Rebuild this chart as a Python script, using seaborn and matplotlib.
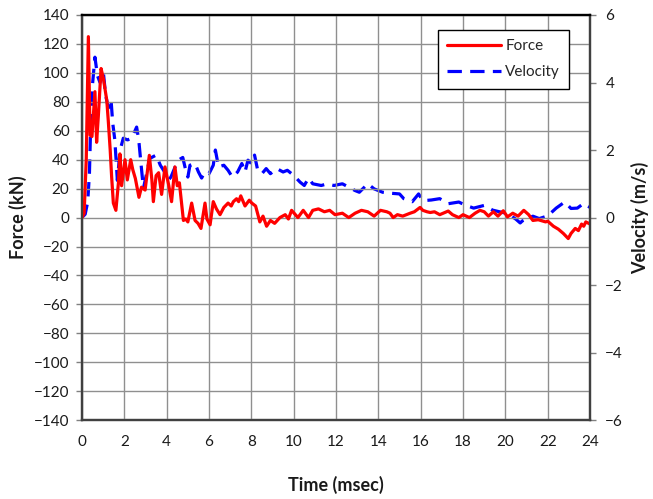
import numpy as np
import pandas as pd
import matplotlib
matplotlib.use("Agg")
import matplotlib.pyplot as plt
import seaborn as sns
from matplotlib.lines import Line2D

# ---- data ----
force_t = [0, 0.1, 0.2, 0.30, 0.38, 0.47, 0.61, 0.69, 0.77, 0.90, 1.01, 1.17, 1.24, 1.33,
           1.40, 1.48, 1.60, 1.72, 1.79, 1.87, 2.03, 2.14, 2.30, 2.40, 2.52, 2.69, 2.81,
           2.98, 3.18, 3.30, 3.37, 3.50, 3.62, 3.76, 3.92, 4.10, 4.23, 4.39, 4.50, 4.60,
           4.79, 4.90, 5.00, 5.18, 5.34, 5.48, 5.62, 5.81, 5.90, 6.05, 6.20, 6.35, 6.52,
           6.70, 6.90, 7.05, 7.15, 7.30, 7.40, 7.50, 7.70, 7.90, 8.02, 8.20, 8.40, 8.55,
           8.72, 8.90, 9.10, 9.35, 9.60, 9.75, 9.90, 10.20, 10.45, 10.70, 10.90, 11.17,
           11.45, 11.70, 11.95, 12.30, 12.60, 12.90, 13.20, 13.50, 13.80, 14.10, 14.40,
           14.55, 14.70, 14.90, 15.15, 15.50, 15.70, 15.97, 16.10, 16.30, 16.45, 16.65,
           16.90, 17.30, 17.50, 17.80, 18.00, 18.30, 18.57, 18.80, 19.00, 19.20, 19.43,
           19.65, 19.90, 20.10, 20.35, 20.60, 20.87, 21.10, 21.30, 21.55, 21.90, 22.00,
           22.27, 22.50, 22.74, 22.97, 23.10, 23.30, 23.45, 23.60, 23.70, 23.80, 24.00]
force_kn = [0, 3, 40, 125, 57, 56, 87, 52, 70, 103, 96, 81, 67, 47,
            28, 10, 5, 24, 44, 22, 40, 26, 40, 33, 27, 14, 21,
            19, 43, 26, 11, 29, 31, 16, 35, 22, 11, 35, 22, 24,
            -2, -1, -3, 10, -2, -4, -7.5, 10, -1, -5, 11, 6, 2,
            7, 10, 8, 11, 13, 11, 15, 8, 12, 10, 8, -3, 1,
            -6, -2, -4, 0, 2, -1, 5, 0, 5, 0, 5, 6,
            4, 5, 2, 3, 0, 3, 5, 4, 1, 5, 4,
            3, 0, 2, 1, 3, 4, 7, 5, 4, 3.5, 4,
            2, 4.5, 2, 0, 2, 0, 3, 5, 4, 1, 4,
            1, 4.7, 0.5, 3, 1, 5, 2, -2, -1.5, -3, -2.5,
            -6, -8, -11, -14.5, -11, -7.5, -9, -4.5, -6, -3, -4.5]

vel_t = [0, 0.15, 0.27, 0.35, 0.40, 0.49, 0.61, 0.73, 0.85, 1.00, 1.12, 1.25, 1.37, 1.45,
         1.55, 1.62, 1.67, 1.80, 1.95, 2.15, 2.35, 2.58, 2.68, 2.77, 2.90, 3.05, 3.20,
         3.50, 3.70, 3.90, 4.07, 4.20, 4.40, 4.60, 4.76, 4.90, 5.00, 5.10, 5.34, 5.50,
         5.65, 5.80, 6.00, 6.20, 6.30, 6.45, 6.70, 6.90, 7.10, 7.35, 7.55, 7.70, 7.84,
         8.00, 8.15, 8.30, 8.50, 8.70, 8.90, 9.20, 9.50, 9.70, 10.00, 10.30, 10.50,
         10.70, 10.90, 11.30, 11.60, 11.90, 12.30, 12.60, 12.90, 13.10, 13.50, 13.80,
         14.20, 14.60, 15.00, 15.20, 15.60, 15.90, 16.10, 16.50, 16.90, 17.30, 17.80,
         18.10, 18.50, 19.00, 19.40, 19.80, 20.10, 20.50, 20.70, 20.80, 21.30, 21.60,
         22.00, 22.40, 22.80, 23.10, 23.40, 23.70, 24.00]
vel_ms = [0, 0.1, 0.47, 1.3, 2.5, 3.9, 4.75, 4.2, 4.0, 4.35, 3.6, 3.25, 3.5, 2.8,
          2.3, 1.6, 1.1, 2.0, 2.35, 2.3, 2.35, 2.68, 2.3, 1.7, 0.86, 1.3, 1.75,
          1.85, 1.55, 1.35, 1.1, 1.2, 1.5, 1.72, 1.78, 1.4, 1.2, 1.55, 1.6, 1.35,
          1.17, 1.35, 1.3, 1.55, 2.0, 1.5, 1.55, 1.4, 1.2, 1.35, 1.6, 1.35, 1.7,
          1.6, 1.85, 1.4, 1.3, 1.45, 1.3, 1.45, 1.35, 1.4, 1.25, 1.05, 0.95,
          1.17, 1.0, 0.95, 1.0, 0.95, 1.0, 0.9, 0.8, 0.75, 1.0, 0.85,
          0.75, 0.72, 0.7, 0.56, 0.47, 0.7, 0.5, 0.52, 0.56, 0.41, 0.46,
          0.37, 0.28, 0.36, 0.22, 0.16, 0.12, -0.05, -0.16, -0.1, 0.04, -0.03,
          0.05, 0.28, 0.46, 0.27, 0.28, 0.42, 0.3]

x_ticks = list(range(0, 25, 2))
force_ticks = list(range(-140, 141, 20))
vel_ticks = list(range(-6, 7, 2))

# ---- style ----
sns.set_style("white")
plt.rcParams['font.family'] = ['Lato', 'DejaVu Sans']

fig = plt.figure(figsize=(6.53, 4.99), dpi=100)
ax = fig.add_axes([0.1256, 0.158, 0.778, 0.812])
ax2 = ax.twinx()

df_f = pd.DataFrame({"t": force_t, "F": force_kn})
df_v = pd.DataFrame({"t": vel_t, "V": vel_ms})

sns.lineplot(data=df_f, x="t", y="F", ax=ax, color="#FF0000", linewidth=2.3,
             estimator=None, sort=False)
sns.lineplot(data=df_v, x="t", y="V", ax=ax2, color="#0000FF", linewidth=2.3,
             estimator=None, sort=False)
vline = ax2.get_lines()[-1]
vline.set_dashes([4.5, 2.6])

# draw force above velocity
ax.set_zorder(ax2.get_zorder() + 1)
ax.patch.set_visible(False)
ax2.patch.set_visible(True)
ax2.patch.set_facecolor("white")

ax.set_xlim(0, 24)
ax.set_ylim(-140, 140)
ax2.set_ylim(-6, 6)
ax.set_xticks(x_ticks)
ax.set_yticks(force_ticks)
ax2.set_yticks(vel_ticks)

ax.grid(True, color="#8f8f8f", linewidth=1.0)
ax2.grid(False)
ax.set_axisbelow(True)

for a in (ax, ax2):
    for s in a.spines.values():
        s.set_color("#404040")
        s.set_linewidth(1.6)
    a.tick_params(axis="both", direction="out", length=4, width=1, color="#808080",
                  labelsize=11, labelcolor="#1a1a1a", pad=5)
ax.spines["top"].set_color("#000000")
ax.tick_params(axis="x", pad=7)
ax2.tick_params(axis="y", pad=7)

ax.set_xlabel("Time (msec)", fontsize=13, fontweight="bold", color="#1a1a1a")
ax.set_ylabel("Force (kN)", fontsize=13, fontweight="bold", color="#1a1a1a")
ax2.set_ylabel("Velocity (m/s)", fontsize=13, fontweight="bold", color="#1a1a1a",
               rotation=90)
ax.xaxis.set_label_coords(0.5, -0.138)
ax.yaxis.set_label_coords(-0.108, 0.5)
ax2.yaxis.set_label_coords(1.081, 0.5)

handles = [Line2D([0], [0], color="#FF0000", linewidth=2.3),
           Line2D([0], [0], color="#0000FF", linewidth=2.3, dashes=[4.5, 2.6])]
leg = ax.legend(handles, ["Force", "Velocity"], loc="upper left",
                bbox_to_anchor=(0.701, 0.963), frameon=True, fancybox=False,
                fontsize=11, handlelength=3.5, handletextpad=0.3,
                borderpad=0.6, labelspacing=0.8, borderaxespad=0)
leg.get_frame().set_edgecolor("#000000")
leg.get_frame().set_linewidth(1.0)
leg.get_frame().set_facecolor("white")
leg.get_frame().set_alpha(1)

fig.savefig("out.png", dpi=100)
